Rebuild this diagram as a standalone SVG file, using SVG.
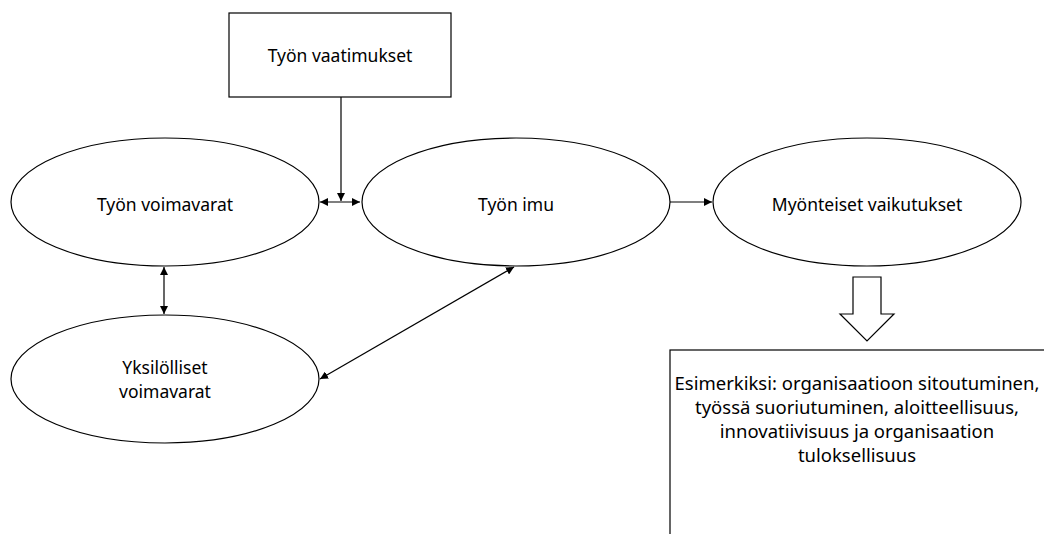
<svg xmlns="http://www.w3.org/2000/svg" width="1044" height="534" viewBox="0 0 1044 534">
<style>
.shape{fill:#fff;stroke:#000;stroke-width:1.2}
.lbl{font-family:"Noto Sans","Open Sans",sans-serif;font-size:17.5px;fill:#000;text-anchor:middle;dominant-baseline:central}
.big{font-size:18.5px}
.con{stroke:#000;stroke-width:1.2;fill:none}
</style>
<defs>
<marker id="ah" viewBox="0 0 10 10" refX="10" refY="5" markerWidth="8" markerHeight="8" markerUnits="userSpaceOnUse" orient="auto-start-reverse">
<path d="M0,0 L10,5 L0,10 z" fill="#000"/>
</marker>
</defs>
<rect width="1044" height="534" fill="#fff"/>
<g id="node-vaatimukset">
<rect class="shape" x="229" y="13" width="222" height="84"/>
<text class="lbl" x="340" y="55">Työn vaatimukset</text>
</g>
<g id="node-voimavarat">
<ellipse class="shape" cx="165" cy="202" rx="154" ry="64"/>
<text class="lbl" x="165" y="204">Työn voimavarat</text>
</g>
<g id="node-imu">
<ellipse class="shape" cx="516" cy="202" rx="154" ry="64"/>
<text class="lbl" x="516" y="204">Työn imu</text>
</g>
<g id="node-vaikutukset">
<ellipse class="shape" cx="867" cy="202" rx="154" ry="64"/>
<text class="lbl" x="867" y="204">Myönteiset vaikutukset</text>
</g>
<g id="node-yksilolliset">
<ellipse class="shape" cx="165" cy="379" rx="154" ry="64"/>
<text class="lbl" x="165" y="367">Yksilölliset</text>
<text class="lbl" x="165" y="391">voimavarat</text>
</g>
<g id="node-esimerkiksi">
<rect class="shape" x="670" y="350" width="400" height="250"/>
<text class="lbl big" x="857" y="382">Esimerkiksi: organisaatioon sitoutuminen,</text>
<text class="lbl big" x="857" y="406">työssä suoriutuminen, aloitteellisuus,</text>
<text class="lbl big" x="857" y="430">innovatiivisuus ja organisaation</text>
<text class="lbl big" x="857" y="454">tuloksellisuus</text>
</g>
<g id="connectors">
<line class="con" x1="320" y1="202" x2="360" y2="202" marker-start="url(#ah)" marker-end="url(#ah)"/>
<line class="con" x1="341" y1="97" x2="341" y2="201" marker-end="url(#ah)"/>
<line class="con" x1="670" y1="202" x2="712" y2="202" marker-end="url(#ah)"/>
<line class="con" x1="164" y1="267" x2="164" y2="314" marker-start="url(#ah)" marker-end="url(#ah)"/>
<line class="con" x1="514" y1="267" x2="320" y2="379" marker-start="url(#ah)" marker-end="url(#ah)"/>
<path class="shape" d="M853,277 L881,277 L881,314 L894,314 L867,341 L840,314 L853,314 Z"/>
</g>
</svg>
